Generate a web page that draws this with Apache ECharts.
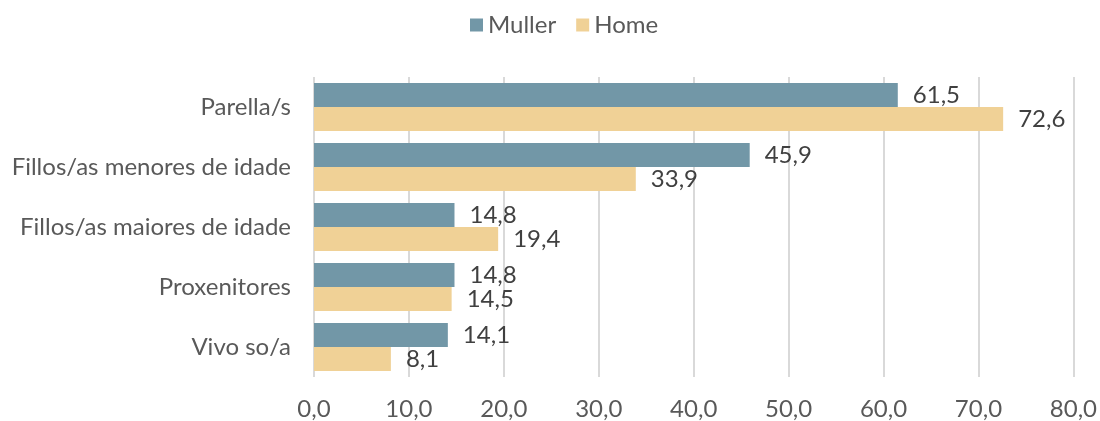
<!DOCTYPE html>
<html>
<head>
<meta charset="utf-8">
<script src="https://cdn.jsdelivr.net/npm/echarts@6/dist/echarts.min.js"></script>
<style>
  html, body { margin: 0; padding: 0; background: #fff; }
  #chart { width: 1100px; height: 421px; }
</style>
</head>
<body>
<div id="chart"></div>
<script>
  // categories listed top to bottom
  const categories = ['Parella/s', 'Fillos/as menores de idade', 'Fillos/as maiores de idade', 'Proxenitores', 'Vivo so/a']
  const muller = [61.5, 45.9, 14.8, 14.8, 14.1]
  const home = [72.6, 33.9, 19.4, 14.5, 8.1]
  const seriesNames = ['Muller', 'Home']

  const fmt = v => v.toFixed(1).replace('.', ',')

  const chart = echarts.init(document.getElementById('chart'))
  const labelStyle = {
    show: true,
    position: 'right',
    distance: 15,
    fontFamily: 'Lato',
    fontSize: 24,
    color: '#404040',
    formatter: p => fmt(p.value)
  }
  const option = {
    animation: false,
    textStyle: { fontFamily: 'Lato' },
    legend: {
      top: 13,
      left: 470,
      padding: 0,
      itemWidth: 13,
      itemHeight: 13,
      itemGap: 20,
      icon: 'rect',
      textStyle: { fontSize: 24, color: '#595959', fontFamily: 'Lato', padding: [0, 0, 0, 0] },
      data: seriesNames
    },
    grid: { left: 314, right: 26, top: 77, bottom: 44, containLabel: false },
    xAxis: {
      type: 'value',
      min: 0,
      max: 80,
      interval: 10,
      axisLine: { show: false },
      axisTick: { show: false },
      splitLine: { show: true, lineStyle: { color: '#d9d9d9', width: 2 } },
      axisLabel: {
        margin: 20,
        fontSize: 24,
        color: '#595959',
        fontFamily: 'Lato',
        formatter: v => fmt(v)
      }
    },
    yAxis: {
      type: 'category',
      inverse: true,
      data: categories,
      axisLine: { show: false },
      axisTick: { show: false },
      axisLabel: { margin: 23, fontSize: 24, color: '#595959', fontFamily: 'Lato' }
    },
    series: [
      {
        name: seriesNames[0],
        type: 'bar',
        data: muller,
        barGap: '0%',
        barCategoryGap: '20%',
        itemStyle: { color: '#7297a7' },
        label: labelStyle
      },
      {
        name: seriesNames[1],
        type: 'bar',
        data: home,
        barGap: '0%',
        barCategoryGap: '20%',
        itemStyle: { color: '#f0d196' },
        label: labelStyle
      }
    ]
  }
  chart.setOption(option)
  window.addEventListener('resize', () => {
    chart.resize()
  })
</script>
</body>
</html>
